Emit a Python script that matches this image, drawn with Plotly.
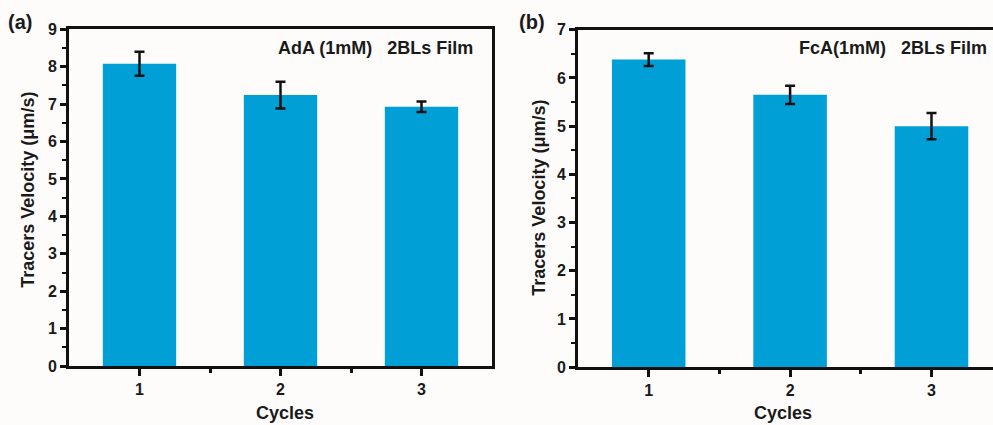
import plotly.graph_objects as go

cycles = [1, 2, 3]
ada_velocity = [8.08, 7.24, 6.93]
ada_error = [0.32, 0.36, 0.14]
fca_velocity = [6.38, 5.65, 5.00]
fca_error = [0.13, 0.19, 0.27]

panel_a_note = "AdA (1mM)   2BLs Film"
panel_b_note = "FcA(1mM)   2BLs Film"
y_title = "Tracers Velocity (μm/s)"
x_title = "Cycles"

BAR = "#009fd6"
BG = "#fdfcfb"
FONT = "Liberation Sans, Arial, sans-serif"
W, H = 993, 433
VS, OFF = 425 / 441, 8  # vertical page scaling and top page margin seen in the screenshot

def py(y_ref):
    return 1 - (y_ref / VS - OFF) / H

fig = go.Figure()
fig.add_trace(go.Bar(x=cycles, y=ada_velocity, width=0.52, marker=dict(color=BAR, line=dict(width=0)),
                     error_y=dict(type="data", array=ada_error, color="#111", thickness=2.5, width=5),
                     xaxis="x", yaxis="y", showlegend=False))
fig.add_trace(go.Bar(x=cycles, y=fca_velocity, width=0.52, marker=dict(color=BAR, line=dict(width=0)),
                     error_y=dict(type="data", array=fca_error, color="#111", thickness=2.5, width=5),
                     xaxis="x2", yaxis="y2", showlegend=False))

tickfont = dict(family=FONT, size=16, color="#1a1a1a", weight="bold")

def xax(domain, rng):
    return dict(domain=domain, range=rng, tickvals=cycles, ticks="outside", ticklen=7, tickwidth=3,
                tickcolor="#111", showline=True, linewidth=3, linecolor="#111", mirror=True,
                showgrid=False, zeroline=False, tickfont=tickfont,
                minor=dict(tickvals=[1.5, 2.5], ticks="outside", ticklen=4, tickwidth=3, tickcolor="#111"))

def yax(domain, rng, dtick, mirror, anchor):
    return dict(domain=domain, range=rng, dtick=dtick, ticks="outside", ticklen=6, tickwidth=2.5,
                tickcolor="#111", showline=True, linewidth=3, linecolor="#111", mirror=mirror,
                showgrid=False, zeroline=False, tickfont=tickfont, anchor=anchor,
                minor=dict(dtick=0.5, ticks="outside", ticklen=4, tickwidth=2, tickcolor="#111"))

fig.update_layout(
    width=W, height=H, margin=dict(l=0, r=0, t=0, b=0),
    paper_bgcolor=BG, plot_bgcolor=BG,
    xaxis=xax([69 / W, 492 / W], [0.5, 3.5]) | dict(anchor="y"),
    yaxis=yax([py(367), py(29)], [0, 9], 1, True, "x"),
    xaxis2=xax([578 / W, 1.0], [0.5, 3.435]) | dict(anchor="y2"),
    yaxis2=yax([py(368), py(29.5)], [0, 7], 1, False, "x2"),
    bargap=0.48,
)

ann = []
def text(x, y, s, size=18, angle=0, xanchor="center"):
    ann.append(dict(x=x / W, y=py(y), xref="paper", yref="paper", text=s, showarrow=False,
                    font=dict(family=FONT, size=size, color="#1a1a1a", weight="bold"),
                    textangle=angle, xanchor=xanchor, yanchor="middle"))

text(6, 22, "(a)", size=20, xanchor="left")
text(517, 22, "(b)", size=20, xanchor="left")
text(475, 48, panel_a_note, xanchor="right")
text(989, 48, panel_b_note, xanchor="right")
text(28, 190, y_title, size=18, angle=-90)
text(539, 198, y_title, size=18, angle=-90)
text(285, 414, x_title, size=18)
text(783, 414, x_title, size=18)
fig.update_layout(annotations=ann)

css_fix = (
    "document.documentElement.style.margin='0';document.documentElement.style.padding='0';"
    "document.documentElement.style.overflow='hidden';document.documentElement.style.background='" + BG + "';"
    "document.body.style.margin='0';document.body.style.padding='0';document.body.style.overflow='hidden';"
    "document.body.style.background='" + BG + "';"
)
fig.write_html("out.html", config={"displayModeBar": False}, post_script=css_fix)
